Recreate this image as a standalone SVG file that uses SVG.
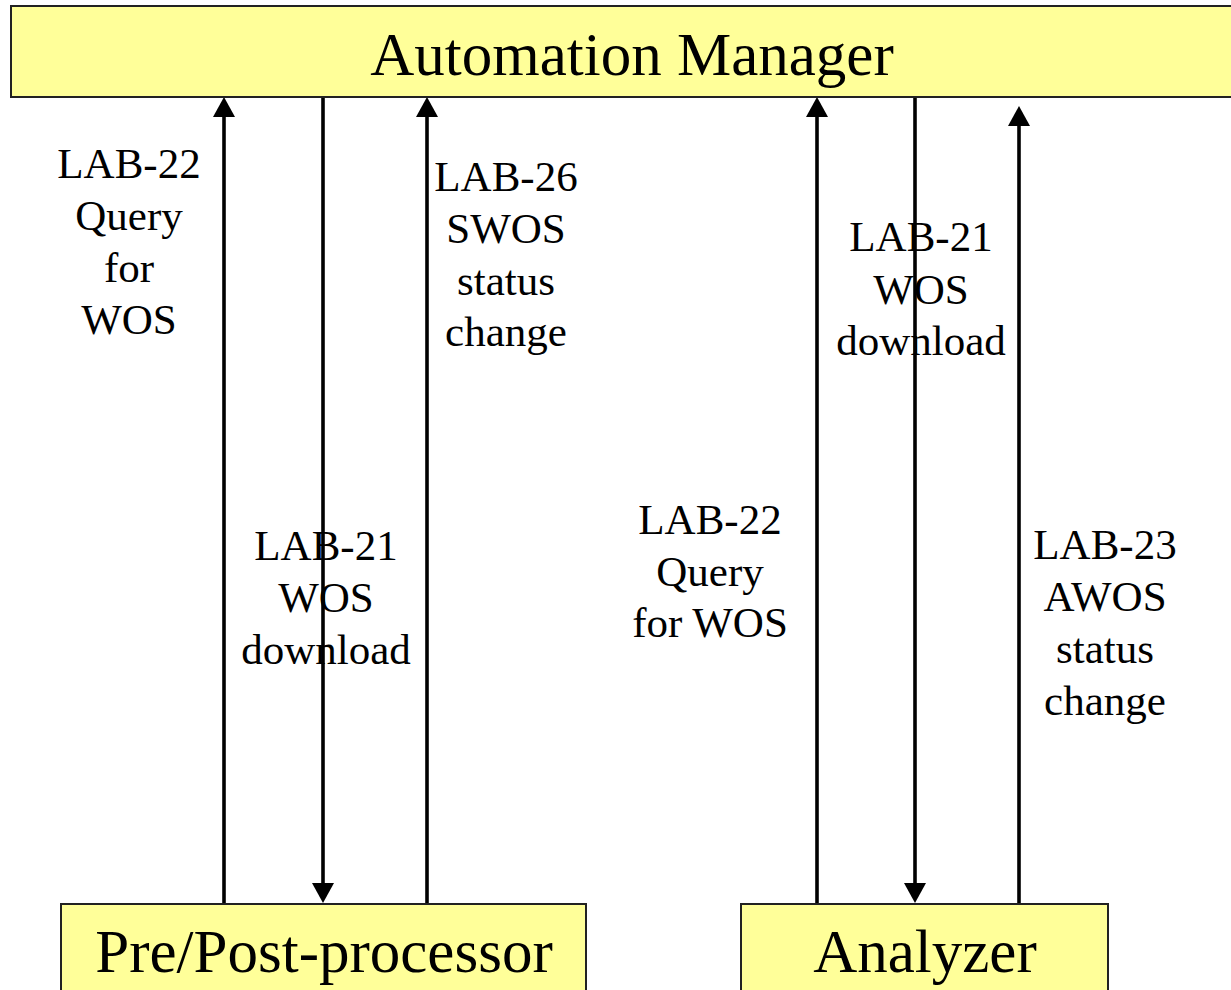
<svg xmlns="http://www.w3.org/2000/svg" width="1231" height="990" viewBox="0 0 1231 990">
  <style>
    .box { fill: #FFFF99; stroke: #222; stroke-width: 2; }
    .title { font-family: "Liberation Serif", "Times New Roman", serif; font-size: 61px; fill: #000; text-anchor: middle; }
    .lbl { font-family: "Liberation Serif", "Times New Roman", serif; font-size: 43px; fill: #000; text-anchor: middle; }
    .wire { stroke: #000; stroke-width: 3.6; fill: none; marker-end: url(#head); }
  </style>
  <defs>
    <marker id="head" viewBox="0 0 20 22" refX="2" refY="11" markerWidth="20" markerHeight="22" markerUnits="userSpaceOnUse" orient="auto">
      <path d="M0,0 L20,11 L0,22 z" fill="#000"/>
    </marker>
  </defs>

  <rect width="1231" height="990" fill="#fff"/>

  <!-- message flows between the manager and the two devices -->
  <g id="connectors">
    <path class="wire" d="M224,904 V115"/>
    <path class="wire" d="M323,97 V885"/>
    <path class="wire" d="M427,904 V115"/>
    <path class="wire" d="M817,904 V115"/>
    <path class="wire" d="M915,97 V885"/>
    <path class="wire" d="M1019,904 V124"/>
  </g>

  <g id="automation-manager">
    <rect class="box" x="11" y="6" width="1230" height="91"/>
    <text class="title" x="632" y="75">Automation Manager</text>
  </g>

  <g id="pre-post-processor">
    <rect class="box" x="61" y="904" width="525" height="100"/>
    <text class="title" x="324" y="972">Pre/Post-processor</text>
  </g>

  <g id="analyzer">
    <rect class="box" x="741" y="904" width="367" height="100"/>
    <text class="title" x="925" y="972">Analyzer</text>
  </g>

  <g id="labels">
    <text class="lbl" x="129" y="178">LAB-22</text>
    <text class="lbl" x="129" y="230">Query</text>
    <text class="lbl" x="129" y="282">for</text>
    <text class="lbl" x="129" y="334">WOS</text>

    <text class="lbl" x="506" y="191">LAB-26</text>
    <text class="lbl" x="506" y="243">SWOS</text>
    <text class="lbl" x="506" y="295">status</text>
    <text class="lbl" x="506" y="346">change</text>

    <text class="lbl" x="326" y="560">LAB-21</text>
    <text class="lbl" x="326" y="612">WOS</text>
    <text class="lbl" x="326" y="664">download</text>

    <text class="lbl" x="921" y="251">LAB-21</text>
    <text class="lbl" x="921" y="304">WOS</text>
    <text class="lbl" x="921" y="355">download</text>

    <text class="lbl" x="710" y="534">LAB-22</text>
    <text class="lbl" x="710" y="586">Query</text>
    <text class="lbl" x="710" y="637">for WOS</text>

    <text class="lbl" x="1105" y="559">LAB-23</text>
    <text class="lbl" x="1105" y="611">AWOS</text>
    <text class="lbl" x="1105" y="663">status</text>
    <text class="lbl" x="1105" y="715">change</text>
  </g>
</svg>
